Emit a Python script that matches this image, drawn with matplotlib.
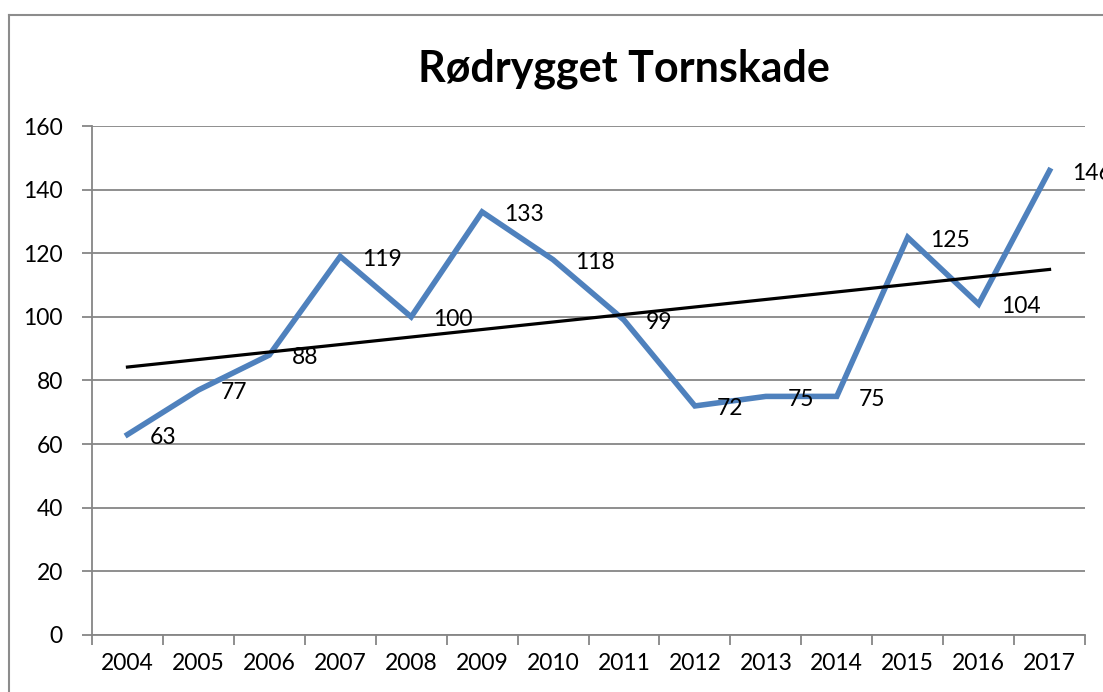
import numpy as np
import matplotlib.pyplot as plt
from matplotlib.lines import Line2D

years = ["2004", "2005", "2006", "2007", "2008", "2009", "2010",
         "2011", "2012", "2013", "2014", "2015", "2016", "2017"]
counts = [63, 77, 88, 119, 100, 133, 118, 99, 72, 75, 75, 125, 104, 146]
title = "Rødrygget Tornskade"

plt.rcParams['font.family'] = ['Lato', 'DejaVu Sans']

fig = plt.figure(figsize=(11.03, 6.92), dpi=100)
ax = fig.add_axes([0.0834, 0.0824, 0.9003, 0.7355])

x = np.arange(len(years))
ax.plot(x, counts, color='#4F81BD', lw=4.0, solid_joinstyle='miter', zorder=3)

# linear trendline
k, b = np.polyfit(x, counts, 1)
ax.plot(x, k * x + b, color='black', lw=2.3, zorder=4)

for xi, yi in zip(x, counts):
    ax.annotate(str(yi), (xi, yi), xytext=(16, -2), textcoords='offset points',
                ha='left', va='center', fontsize=16.5, annotation_clip=False, zorder=5)

ax.set_xlim(-0.5, len(years) - 0.5)
ax.set_ylim(0, 160)
ax.set_yticks(range(0, 161, 20))
ax.yaxis.grid(True, color='#868686', lw=1.3)
ax.set_axisbelow(True)

ax.set_xticks(np.arange(-0.5, len(years), 1.0))
ax.set_xticklabels([])
ax.set_xticks(x, minor=True)
ax.set_xticklabels(years, minor=True)
ax.tick_params(axis='x', which='major', length=7, width=1.3, color='#868686', direction='out')
ax.tick_params(axis='x', which='minor', length=0, pad=13, labelsize=16.5)
ax.tick_params(axis='y', length=7, width=1.3, color='#868686', pad=14, labelsize=16.5)

for s in ['top', 'right']:
    ax.spines[s].set_visible(False)
for s in ['left', 'bottom']:
    ax.spines[s].set_color('#868686')
    ax.spines[s].set_linewidth(1.3)

fig.text(0.566, 0.900, title, ha='center', va='center', fontsize=31, fontweight='bold')

# chart area border (cropped on right and bottom)
fx, fy = 9 / 1103, 1 - 15 / 692
fig.add_artist(Line2D([fx, fx], [0, fy], color='#8c8c8c', lw=1.5, transform=fig.transFigure))
fig.add_artist(Line2D([fx, 1], [fy, fy], color='#8c8c8c', lw=1.5, transform=fig.transFigure))

fig.savefig('out.png', dpi=100)
